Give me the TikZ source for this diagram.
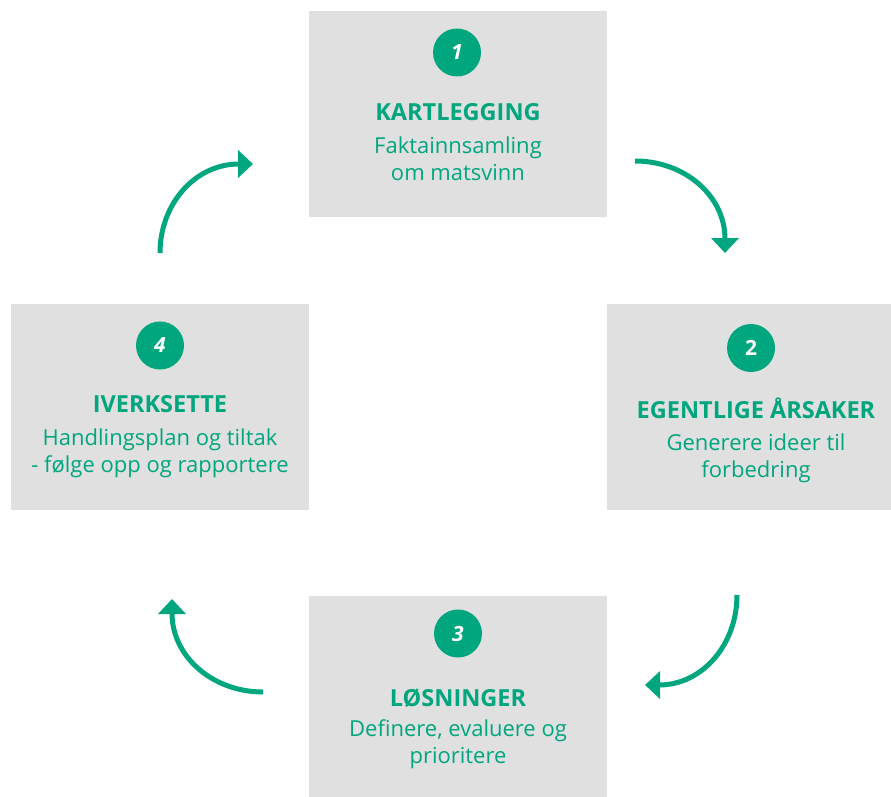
\documentclass[tikz,border=0pt]{standalone}
\usepackage{fontspec}
\setmainfont{Open Sans}
\usepackage{tikz}
\usetikzlibrary{positioning}
\usetikzlibrary{arrows.meta}
\definecolor{mvgreen}{HTML}{00A67E}
\definecolor{mvgray}{HTML}{E0E0E0}
\tikzstyle{stage} = [rectangle, fill=mvgray, minimum width=298pt, minimum height=206pt, inner sep=0pt]
\tikzstyle{num} = [circle, fill=mvgreen, text=white, minimum size=48pt, inner sep=0pt, font=\fontsize{21}{21}\selectfont\bfseries]
\tikzstyle{head} = [text=mvgreen, anchor=base, inner sep=0pt, font=\fontsize{23.5}{26}\selectfont\bfseries]
\tikzstyle{desc} = [text=mvgreen, anchor=base, inner sep=0pt, align=center, font=\fontsize{22}{27}\selectfont]
\tikzstyle{cycle} = [draw=mvgreen, line width=5pt, -{Triangle[length=15pt,width=27pt]}]

\begin{document}
\begin{tikzpicture}[x=1pt,y=-1pt]
\useasboundingbox (0,0) rectangle (891,797);
\clip (0,0) rectangle (891,797);

% the four stages
\node [stage] (s1) at (458,114) {};
\node [stage] (s2) at (756,407) {};
\node [stage] (s3) at (458,699) {};
\node [stage] (s4) at (160,407) {};

\node [num] (n1) at (457,52.5) {\itshape 1};
\node [num] (n2) at (751,348) {2};
\node [num] (n3) at (458,633.5) {\itshape 3};
\node [num] (n4) at (160,345.5) {\itshape 4};

% desc nodes sit on the baseline of their last line
\node [head] (h1) at (458,121) {KARTLEGGING};
\node [desc] (d1) at (458,180) {Faktainnsamling\\om matsvinn};
\node [head] (h2) at (756,418) {EGENTLIGE ÅRSAKER};
\node [desc] (d2) at (756,477) {Generere ideer til\\forbedring};
\node [head] (h3) at (458,706) {LØSNINGER};
\node [desc] (d3) at (458,763) {Definere, evaluere og\\prioritere};
\node [head] (h4) at (160,412) {IVERKSETTE};
\node [desc] (d4) at (160,472) {Handlingsplan og tiltak\\- følge opp og rapportere};

% curved arrows between the stages
\coordinate (a1s) at (635,161);
\coordinate (a1e) at (725,253);
\coordinate (a2s) at (737,595);
\coordinate (a2e) at (645,685);
\coordinate (a3s) at (263,692);
\coordinate (a3e) at (172,599);
\coordinate (a4s) at (160,253);
\coordinate (a4e) at (253,164);

\draw [cycle] (a1s) .. controls +(50,0) and +(0,-57) .. (a1e);
\draw [cycle] (a2s) .. controls +(0,50) and +(57,0) .. (a2e);
\draw [cycle] (a3s) .. controls +(-50,0) and +(0,58) .. (a3e);
\draw [cycle] (a4s) .. controls +(0,-49) and +(-58,0) .. (a4e);
\end{tikzpicture}
\end{document}
